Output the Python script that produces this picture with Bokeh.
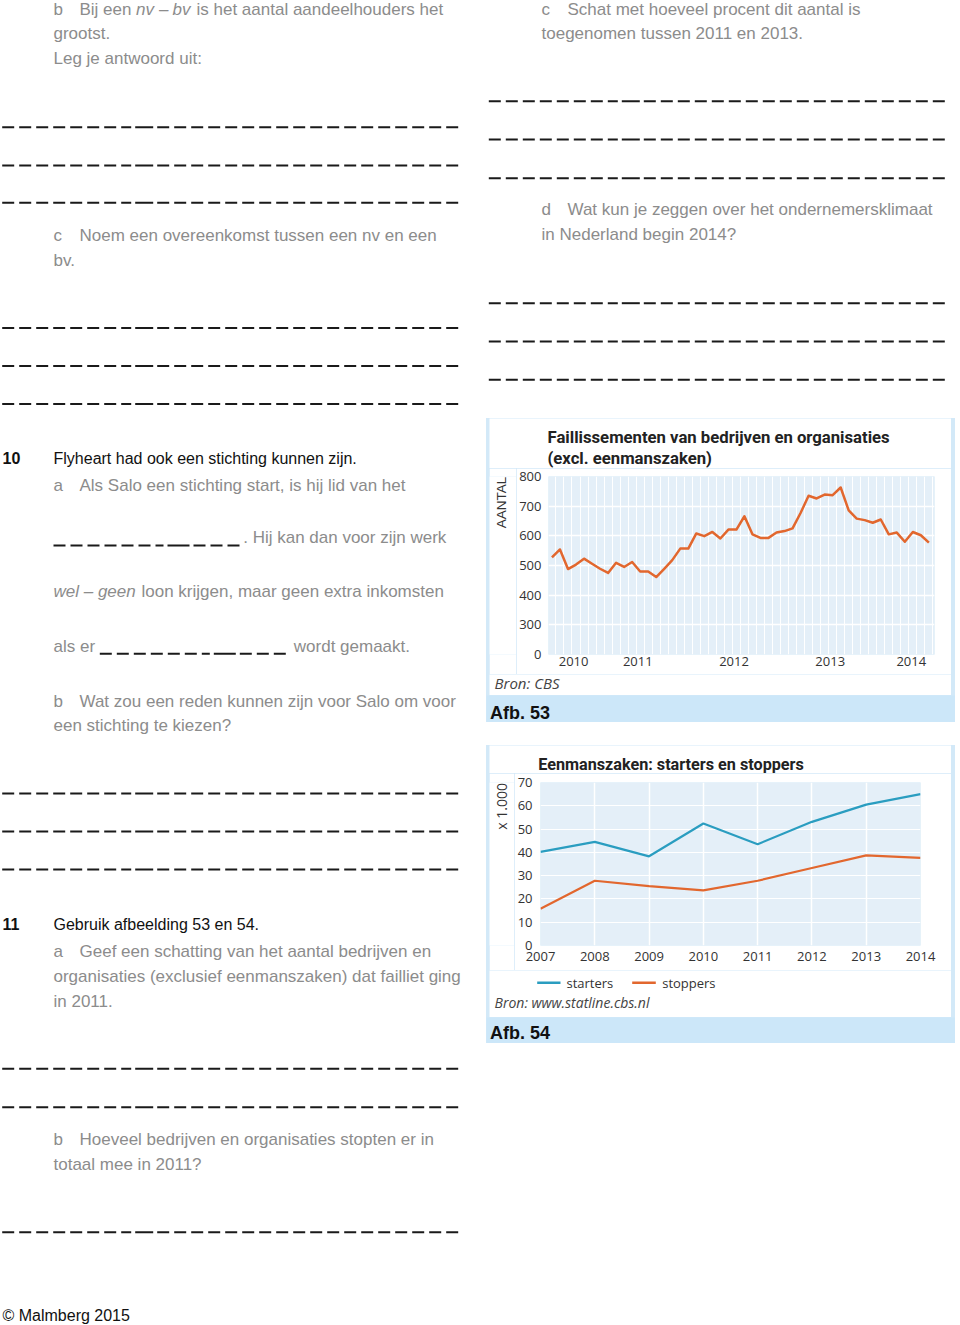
import numpy as np
from bokeh.plotting import figure
from bokeh.models import Range1d, FixedTicker
from bokeh.layouts import row, column
from bokeh.core.properties import value
from bokeh.embed import file_html
from bokeh.resources import INLINE

# ---------------- data: Afb. 53 (faillissementen per maand, feb 2010 - jan 2014)
maanden = list(range(1, 49))
faillissementen = [527, 554, 488, 503, 523, 506, 489, 475, 509, 495, 512, 480,
                   480, 461, 489, 518, 557, 557, 608, 599, 613, 591, 621, 621,
                   666, 605, 593, 593, 611, 616, 625, 677, 735, 726, 739, 737,
                   763, 686, 658, 653, 644, 655, 605, 611, 580, 613, 602, 577]
jaar_labels_53 = ["2010", "2011", "2012", "2013", "2014"]
y_ticks_53 = [200, 300, 400, 500, 600, 700, 800]
y_labels_53 = ["0", "300", "400", "500", "600", "700", "800"]

# ---------------- data: Afb. 54 (eenmanszaken x 1.000)
jaren = [2007, 2008, 2009, 2010, 2011, 2012, 2013, 2014]
starters = [40.2, 44.5, 38.3, 52.4, 43.5, 53.1, 60.5, 65.0]
stoppers = [15.8, 27.8, 25.5, 23.7, 27.8, 33.3, 38.7, 37.6]
y_ticks_54 = [0, 10, 20, 30, 40, 50, 60, 70]
reeksen_54 = ["starters", "stoppers"]

# ---------------- styles
GREY = "#8c8c8c"
BLACK = "#111111"
DASH = "#1a1a1a"
PLOT_BG = "#e4eff8"
CARD = "#d3e9f8"
AFB = "#cce7f9"
ORANGE = "#e2672e"
TEAL = "#2a9dc0"
TICK = "#333333"
BODY_FONT = "Liberation Sans"
CHART_FONT = "Open Sans"
TITLE_FONT = "Roboto"


def page_fig(x0, x1, y0, y1, bg="white", margin=None):
    p = figure(width=x1 - x0, height=y1 - y0,
               x_range=Range1d(x0, x1), y_range=Range1d(y1, y0),
               output_backend="svg", toolbar_location=None,
               x_axis_type=None, y_axis_type=None, min_border=0,
               background_fill_color=bg, border_fill_color=bg,
               outline_line_color=None)
    if margin is not None:
        p.margin = margin
    return p


def txt(p, x, base, s, size=17, color=GREY, style="normal", font=BODY_FONT):
    # base = baseline position on the page; drawn centred on the text body
    p.text(x=[x], y=[base - 0.35 * size], text=[s], text_font=value(font),
           text_font_size=f"{size}px", text_color=color, text_font_style=style,
           text_align="left", text_baseline="middle")


def ctxt(p, x, yc, s, size=13, color=TICK, style="normal", font=CHART_FONT, angle=0.0):
    p.text(x=[x], y=[yc], text=[s], text_font=value(font), text_font_size=f"{size}px",
           text_color=color, text_font_style=style, text_align="left",
           text_baseline="middle", angle=angle)


def dash_line(p, x0, x1, y, long_at=133, long_len=18):
    p.segment(x0=[x0], y0=[y], x1=[x0 + long_at - 4], y1=[y], line_dash="12 5",
              line_width=2, line_color=DASH)
    p.segment(x0=[x0 + long_at], y0=[y], x1=[x0 + long_at + long_len], y1=[y],
              line_width=2, line_color=DASH)
    p.segment(x0=[x0 + long_at + long_len + 4], y0=[y], x1=[x1], y1=[y],
              line_dash="12 5", line_width=2, line_color=DASH)


# ================= left column =================
L = page_fig(0, 484, 0, 1325)
txt(L, 53, 15, "b")
txt(L, 79, 15, "Bij een")
txt(L, 135.5, 15, "nv", style="italic")
txt(L, 158.5, 15, "–")
txt(L, 172, 15, "bv", style="italic")
txt(L, 196, 15, "is het aantal aandeelhouders het")
txt(L, 53, 39.3, "grootst.")
txt(L, 53, 64, "Leg je antwoord uit:")
for yy in (126.7, 165, 202.3):
    dash_line(L, 1.7, 462, yy)
txt(L, 53, 240.7, "c")
txt(L, 79, 240.7, "Noem een overeenkomst tussen een nv en een")
txt(L, 53, 266, "bv.")
for yy in (327.5, 365.5, 403.5):
    dash_line(L, 1.7, 462, yy)
txt(L, 2, 463.3, "10", size=16, color=BLACK, style="bold")
txt(L, 53, 463.3, "Flyheart had ook een stichting kunnen zijn.", size=16, color=BLACK)
txt(L, 53, 490.7, "a")
txt(L, 79, 490.7, "Als Salo een stichting start, is hij lid van het")
dash_line(L, 53, 242, 545, long_at=114, long_len=22)
txt(L, 242.7, 543.3, ". Hij kan dan voor zijn werk")
txt(L, 53, 597.3, "wel – geen", style="italic")
txt(L, 141, 597.3, "loon krijgen, maar geen extra inkomsten")
txt(L, 53, 651.7, "als er")
dash_line(L, 99.3, 288.3, 653.3, long_at=114, long_len=22)
txt(L, 293.3, 651.7, "wordt gemaakt.")
txt(L, 53, 706.7, "b")
txt(L, 79, 706.7, "Wat zou een reden kunnen zijn voor Salo om voor")
txt(L, 53, 731, "een stichting te kiezen?")
for yy in (793, 831, 869):
    dash_line(L, 1.7, 462, yy)
txt(L, 2, 929.3, "11", size=16, color=BLACK, style="bold")
txt(L, 53, 929.3, "Gebruik afbeelding 53 en 54.", size=16, color=BLACK)
txt(L, 53, 956.7, "a")
txt(L, 79, 956.7, "Geef een schatting van het aantal bedrijven en")
txt(L, 53, 981.7, "organisaties (exclusief eenmanszaken) dat failliet ging")
txt(L, 53, 1006.7, "in 2011.")
for yy in (1068.3, 1106.7):
    dash_line(L, 1.7, 462, yy)
txt(L, 53, 1145, "b")
txt(L, 79, 1145, "Hoeveel bedrijven en organisaties stopten er in")
txt(L, 53, 1170, "totaal mee in 2011?")
dash_line(L, 1.7, 462, 1231.7)
txt(L, 2, 1320.7, "© Malmberg 2015", size=16, color=BLACK)

# ================= right top text =================
R = page_fig(484, 960, 0, 418)
txt(R, 541, 15, "c")
txt(R, 567, 15, "Schat met hoeveel procent dit aantal is")
txt(R, 541, 39.3, "toegenomen tussen 2011 en 2013.")
for yy in (100.7, 139, 177.7):
    dash_line(R, 488.3, 948, yy)
txt(R, 541, 215, "d")
txt(R, 567, 215, "Wat kun je zeggen over het ondernemersklimaat")
txt(R, 541, 240, "in Nederland begin 2014?")
for yy in (302.7, 341, 379.3):
    dash_line(R, 488.3, 948, yy)


def style_axes(p):
    for ax in (p.xaxis, p.yaxis):
        ax.axis_line_color = None
        ax.major_tick_line_color = None
        ax.minor_tick_line_color = None
        ax.major_tick_out = 0
        ax.minor_tick_out = 0
        ax.major_tick_in = 0
        ax.minor_tick_in = 0
        ax.major_label_text_font = CHART_FONT
        ax.major_label_text_font_size = "13px"
        ax.major_label_text_color = TICK


INNER = (0, 4, 0, 3)

# ================= Afb. 53 =================
h1 = page_fig(489, 951, 418, 468, margin=INNER)
ctxt(h1, 547, 437, "Faillissementen van bedrijven en organisaties", size=16.7,
     style="bold", font=TITLE_FONT, color="#222222")
ctxt(h1, 547, 457.8, "(excl. eenmanszaken)", size=16.7, style="bold", font=TITLE_FONT,
     color="#222222")

lab1 = page_fig(489, 516, 468, 674)
ctxt(lab1, 501, 528, "AANTAL", size=13.5, font=BODY_FONT, angle=np.pi / 2)

p1 = figure(width=435, height=206, x_range=Range1d(0.57, 48.7), y_range=Range1d(200, 800),
            output_backend="svg", toolbar_location=None,
            min_border_left=31, min_border_right=17, min_border_top=8, min_border_bottom=20,
            background_fill_color=PLOT_BG, border_fill_color="white",
            outline_line_color=None)
p1.line(maanden, faillissementen, line_color=ORANGE, line_width=2.5, line_join="round")
style_axes(p1)
x_tick_pos_53 = [3.7, 11.7, 23.7, 35.7, 45.8]
p1.xaxis.ticker = FixedTicker(ticks=x_tick_pos_53)
p1.xaxis.major_label_overrides = dict(zip(x_tick_pos_53, jaar_labels_53))
p1.xaxis.major_label_standoff = 2
p1.yaxis.ticker = FixedTicker(ticks=y_ticks_53)
p1.yaxis.major_label_overrides = dict(zip(y_ticks_53, y_labels_53))
p1.yaxis.major_label_standoff = 7
p1.xgrid.ticker = FixedTicker(ticks=[m - 0.5 for m in range(0, 51)])
p1.xgrid.grid_line_color = "white"
p1.xgrid.grid_line_width = 1
p1.ygrid.grid_line_color = "white"
p1.ygrid.grid_line_width = 1.5

row1 = row(lab1, p1, spacing=0, margin=INNER)

f1 = page_fig(489, 951, 674, 695, margin=INNER)
ctxt(f1, 494, 682.5, "Bron: CBS", size=15, style="italic", color="#444444")

afb1 = page_fig(486, 955, 695, 722, bg=AFB)
txt(afb1, 489.5, 719, "Afb. 53", size=18, color=BLACK, style="bold")

card1 = column(h1, row1, f1, afb1, styles={"background-color": CARD},
               margin=(0, 5, 0, 2), spacing=0)

# ================= Afb. 54 =================
h2 = page_fig(489, 951, 745, 773, margin=INNER)
ctxt(h2, 537.7, 764, "Eenmanszaken: starters en stoppers", size=16.2, style="bold",
     font=TITLE_FONT, color="#222222")

lab2 = page_fig(489, 514, 773, 970)
ctxt(lab2, 501, 830, "x 1.000", size=14, angle=np.pi / 2)

p2 = figure(width=437, height=197, x_range=Range1d(2007, 2014), y_range=Range1d(0, 70),
            output_backend="svg", toolbar_location=None,
            min_border_left=24, min_border_right=31, min_border_top=9, min_border_bottom=25,
            background_fill_color=PLOT_BG, border_fill_color="white",
            outline_line_color=None)
p2.line(jaren, starters, line_color=TEAL, line_width=2.2)
p2.line(jaren, stoppers, line_color=ORANGE, line_width=2.2)
style_axes(p2)
p2.xaxis.ticker = FixedTicker(ticks=jaren)
p2.xaxis.major_label_standoff = 6
p2.yaxis.ticker = FixedTicker(ticks=y_ticks_54)
p2.yaxis.major_label_standoff = 8
p2.xgrid.grid_line_color = "white"
p2.xgrid.grid_line_width = 1.5
p2.ygrid.grid_line_color = "white"
p2.ygrid.grid_line_width = 1

row2 = row(lab2, p2, spacing=0, margin=INNER)

f2 = page_fig(489, 951, 970, 1017, margin=INNER)
# legend
f2.segment(x0=[536.7], y0=[982.3], x1=[560], y1=[982.3], line_color=TEAL, line_width=2.5)
ctxt(f2, 566, 982.3, reeksen_54[0], size=13)
f2.segment(x0=[631.7], y0=[982.3], x1=[655.3], y1=[982.3], line_color=ORANGE, line_width=2.5)
ctxt(f2, 661.7, 982.3, reeksen_54[1], size=13)
ctxt(f2, 494, 1002.3, "Bron: www.statline.cbs.nl", size=14, style="italic", color="#444444")

afb2 = page_fig(486, 955, 1017, 1043, bg=AFB)
txt(afb2, 489.5, 1038.3, "Afb. 54", size=18, color=BLACK, style="bold")

card2 = column(h2, row2, f2, afb2, styles={"background-color": CARD},
               margin=(23, 5, 0, 2), spacing=0)

right = column(R, card1, card2, spacing=0)
root = row(L, right, spacing=0)

open("out.html", "w").write(file_html(root, INLINE))
